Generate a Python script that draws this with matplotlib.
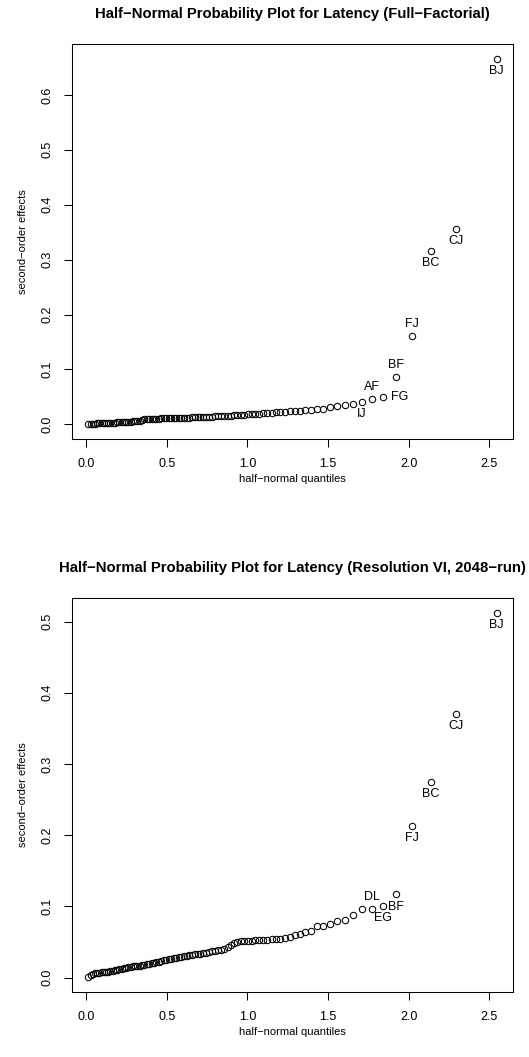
import matplotlib
matplotlib.use("Agg")
import matplotlib.pyplot as plt
from statistics import NormalDist

plt.rcParams['font.family'] = ['Liberation Sans', 'DejaVu Sans']

# ---- data: sorted absolute second-order effects (91 two-factor interactions) ----
full_effects = [
    0.0000, 0.0006, 0.0010, 0.0013, 0.0016, 0.0019, 0.0021, 0.0023, 0.0025, 0.0027,
    0.0029, 0.0031, 0.0033, 0.0035, 0.0038, 0.0040, 0.0042, 0.0044, 0.0047, 0.0050,
    0.0053, 0.0056, 0.0060, 0.0066, 0.0085, 0.0093, 0.0096, 0.0098, 0.0100, 0.0102,
    0.0104, 0.0105, 0.0107, 0.0108, 0.0110, 0.0111, 0.0113, 0.0114, 0.0116, 0.0117,
    0.0119, 0.0120, 0.0122, 0.0124, 0.0126, 0.0128, 0.0130, 0.0132, 0.0134, 0.0136,
    0.0139, 0.0142, 0.0145, 0.0148, 0.0151, 0.0155, 0.0158, 0.0161, 0.0164, 0.0167,
    0.0171, 0.0175, 0.0180, 0.0185, 0.0190, 0.0196, 0.0203, 0.0210, 0.0216, 0.0222,
    0.0227, 0.0232, 0.0237, 0.0243, 0.0250, 0.0258, 0.0265, 0.0275, 0.0288, 0.0310,
    0.0340, 0.0360, 0.0373, 0.0400, 0.0457, 0.0494, 0.0860, 0.1610, 0.3160, 0.3560,
    0.6660,
]
res6_effects = [
    0.0003, 0.0030, 0.0050, 0.0059, 0.0065, 0.0070, 0.0073, 0.0076, 0.0080, 0.0085,
    0.0090, 0.0096, 0.0102, 0.0110, 0.0118, 0.0125, 0.0132, 0.0140, 0.0148, 0.0155,
    0.0160, 0.0163, 0.0166, 0.0170, 0.0175, 0.0181, 0.0189, 0.0197, 0.0203, 0.0210,
    0.0218, 0.0226, 0.0234, 0.0242, 0.0250, 0.0257, 0.0264, 0.0270, 0.0277, 0.0284,
    0.0291, 0.0298, 0.0305, 0.0312, 0.0320, 0.0326, 0.0331, 0.0336, 0.0343, 0.0352,
    0.0360, 0.0367, 0.0375, 0.0382, 0.0393, 0.0405, 0.0425, 0.0455, 0.0485, 0.0500,
    0.0510, 0.0515, 0.0518, 0.0521, 0.0524, 0.0527, 0.0530, 0.0533, 0.0537, 0.0541,
    0.0546, 0.0557, 0.0570, 0.0594, 0.0618, 0.0640, 0.0655, 0.0720, 0.0728, 0.0758,
    0.0795, 0.0804, 0.0874, 0.0968, 0.0968, 0.1000, 0.1168, 0.2128, 0.2748, 0.3704,
    0.5126,
]

# labelled effects: rank (1-based, in sorted order) and name
full_label_ranks = [84, 85, 86, 87, 88, 89, 90, 91]
full_label_names = ["IJ", "AF", "FG", "BF", "FJ", "BC", "CJ", "BJ"]
res6_label_ranks = [85, 86, 87, 88, 89, 90, 91]
res6_label_names = ["DL", "EG", "BF", "FJ", "BC", "CJ", "BJ"]

x_ticks = [0.0, 0.5, 1.0, 1.5, 2.0, 2.5]
full_y_ticks = [0.0, 0.1, 0.2, 0.3, 0.4, 0.5, 0.6]
res6_y_ticks = [0.0, 0.1, 0.2, 0.3, 0.4, 0.5]

titles = ["Half\u2212Normal Probability Plot for Latency (Full\u2212Factorial)",
          "Half\u2212Normal Probability Plot for Latency (Resolution VI, 2048\u2212run)"]

# label placement style: 'b' below, 'a' above, 'r' right
full_label_pos = ['b', 'a', 'r', 'a', 'a', 'b', 'b', 'b']
res6_label_pos = ['a', 'b', 'b', 'b', 'b', 'b', 'b']


def halfnormal_quantiles(n):
    nd = NormalDist()
    return [nd.inv_cdf(0.5 + 0.5 * i / (n + 1)) for i in range(1, n + 1)]


W, H = 529, 1057
fig = plt.figure(figsize=(W / 100, H / 100), dpi=100)

def make_ax(top_px, bottom_px):
    left, right = 72, 513
    return fig.add_axes([left / W, 1 - bottom_px / H, (right - left) / W, (bottom_px - top_px) / H])

panels = [
    (make_ax(44, 439), full_effects, full_label_ranks, full_label_names, full_label_pos, full_y_ticks, titles[0]),
    (make_ax(598, 992), res6_effects, res6_label_ranks, res6_label_names, res6_label_pos, res6_y_ticks, titles[1]),
]

offsets = {'b': ((0, -8.7), 'center', 'center'),
           'a': ((0, 8.7), 'center', 'center'),
           'r': ((5.5, 0.5), 'left', 'center')}

for ax, eff, ranks, names, poss, yt, title in panels:
    n = len(eff)
    xq = halfnormal_quantiles(n)
    ax.plot(xq, eff, linestyle='none', marker='o', markersize=4.6,
            markerfacecolor='none', markeredgecolor='black', markeredgewidth=0.75)
    for r, nm, p in zip(ranks, names, poss):
        off, ha, va = offsets[p]
        ax.annotate(nm, (xq[r - 1], eff[r - 1]), xytext=off, textcoords='offset points',
                    ha=ha, va=va, fontsize=9)
    xr = max(xq) - min(xq)
    ax.set_xlim(min(xq) - 0.04 * xr, max(xq) + 0.04 * xr)
    yr = max(eff) - min(eff)
    ax.set_ylim(min(eff) - 0.04 * yr, max(eff) + 0.04 * yr)
    ax.set_xticks(x_ticks)
    ax.set_xticklabels([f"{v:.1f}" for v in x_ticks])
    ax.set_yticks(yt)
    ax.set_yticklabels([f"{v:.1f}" for v in yt], rotation=90, va='center')
    ax.tick_params(direction='out', length=5.5, width=0.75, labelsize=9, pad=8)
    for s in ax.spines.values():
        s.set_linewidth(0.75)
    ax.set_title(title, fontsize=10.7, fontweight='bold', pad=18.5)
    ax.set_xlabel("half\u2212normal quantiles", fontsize=8)
    ax.set_ylabel("second\u2212order effects", fontsize=8)
    ax.xaxis.set_label_coords(0.5, -0.088)
    ax.yaxis.set_label_coords(-0.1, 0.5)

fig.savefig("out.png", dpi=100)
